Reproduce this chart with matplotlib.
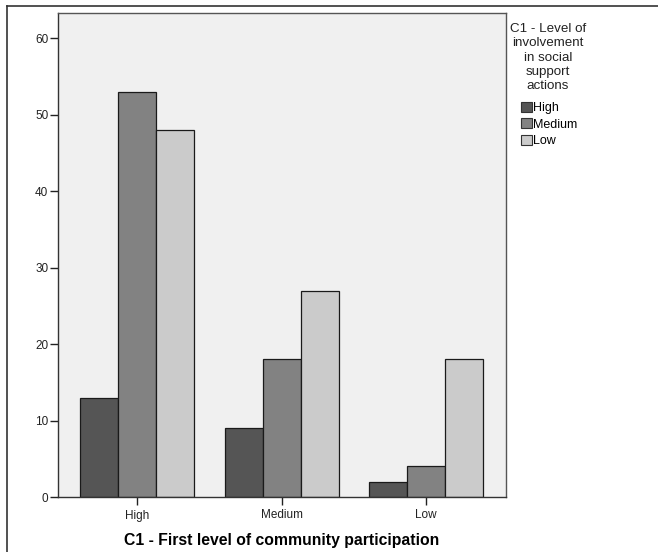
import matplotlib
matplotlib.use('Agg')
import matplotlib.pyplot as plt
from matplotlib.patches import Patch
from matplotlib.lines import Line2D
import numpy as np

plt.rcParams['font.family'] = ['Liberation Sans', 'DejaVu Sans']

categories = ['High', 'Medium', 'Low']
series = ['High', 'Medium', 'Low']
high_vals = [13, 9, 2]
medium_vals = [53, 18, 4]
low_vals = [48, 27, 18]
colors = ['#555555', '#828282', '#cbcbcb']
yticks = [0, 10, 20, 30, 40, 50, 60]

W, H = 658, 552
fig = plt.figure(figsize=(W / 100, H / 100), dpi=100)
ax = fig.add_axes([58 / W, 1 - 497 / H, (506 - 58) / W, (497 - 13) / H])
ax.set_facecolor('#f0f0f0')

x = np.arange(len(categories))
width = 0.263
for i, (vals, c) in enumerate(zip([high_vals, medium_vals, low_vals], colors)):
    ax.bar(x + (i - 1) * width, vals, width, color=c, edgecolor='#1a1a1a',
           linewidth=0.9, zorder=2)

ax.set_xlim(-0.547, 2.553)
ax.set_ylim(0, 63.3)
ax.set_yticks(yticks)
ax.set_xticks(x)
ax.set_xticklabels(categories)
ax.tick_params(axis='both', labelsize=8.5, colors='#222222', length=6,
               width=1, direction='out')
ax.tick_params(axis='x', pad=3)
ax.tick_params(axis='y', pad=1)
for s in ax.spines.values():
    s.set_color('#555555')
    s.set_linewidth(1)
ax.spines['left'].set_color('#333333')
ax.spines['bottom'].set_color('#333333')

ax.set_xlabel('C1 - First level of community participation', fontsize=11.3,
              fontweight='bold', labelpad=8)

# legend title and entries
title_lines = ['C1 - Level of', 'involvement', 'in social', 'support', 'actions']
for k, t in enumerate(title_lines):
    fig.text(548 / W, 1 - (29 + k * 14.3) / H, t, ha='center', va='center',
             fontsize=9.6, color='#222222')
handles = [Patch(facecolor=c, edgecolor='#333333', linewidth=0.8) for c in colors]
fig.legend(handles, series, loc='upper left', bbox_to_anchor=(521 / W, 1 - 102 / H),
           frameon=False, fontsize=9, handlelength=0.85, handleheight=0.85,
           handletextpad=0.1, labelspacing=0.32, borderaxespad=0, borderpad=0)

# outer border (top and left)
fig.add_artist(Line2D([7 / W, 1], [1 - 6 / H, 1 - 6 / H], color='#333333', lw=1.2))
fig.add_artist(Line2D([7 / W, 7 / W], [0, 1 - 6 / H], color='#333333', lw=1.2))

fig.savefig('out.png', dpi=100)
